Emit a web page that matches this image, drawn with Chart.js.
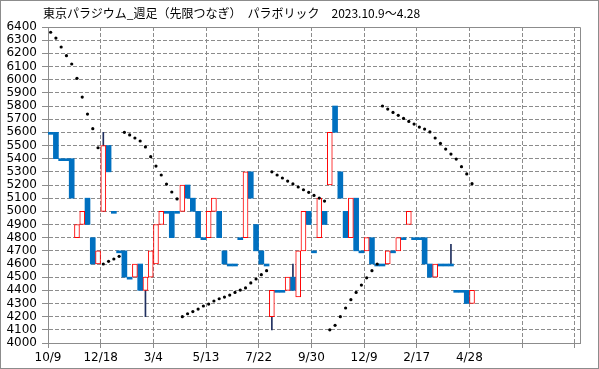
<!DOCTYPE html>
<html><head><meta charset="utf-8">
<script src="https://cdn.jsdelivr.net/npm/chart.js@4"></script>
<style>
html,body{margin:0;padding:0;background:#fff;}
#wrap{position:relative;width:599px;height:369px;}
#c{position:absolute;left:0;top:0;}
#frame{position:absolute;left:0;top:0;width:599px;height:369px;box-sizing:border-box;border:1px solid #8c8c8c;pointer-events:none;}
#title{position:absolute;left:43px;top:5px;font-size:12px;font-family:"Noto Sans CJK JP";color:#000;white-space:nowrap;line-height:16px;}
</style></head>
<body>
<div id="wrap">
<canvas id="c" width="599" height="369"></canvas>
<div id="title">東京パラジウム_週足（先限つなぎ）　パラボリック　2023.10.9～4.28</div>
<div id="frame"></div>
</div>
<script>
// weekly candles (index 0 = 2023/10/9)
const tickLabels = ['10/9','12/18','3/4','5/13','7/22','9/30','12/9','2/17','4/28'];
const openVals  = [5600,5600,5400,5400,5400,4800,4900,5100,4800,4600,
                   5000,5500,5000,4700,4700,4500,4500,4600,4400,4500,
                   4600,4900,5000,5000,5000,5000,5200,5100,5000,4800,
                   4800,5000,5000,4700,4600,4600,4800,4800,5300,4900,
                   4700,4600,4200,4400,4400,4400,4500,4350,4700,5000,
                   4700,4800,5000,5200,5800,5300,5000,4800,5100,4700,
                   4700,4800,4600,4600,4600,4700,4700,4800,4900,4800,
                   4800,4800,4600,4500,4600,4600,4600,4400,4400,4400,
                   4300];
const closeVals = [5600,5400,5400,5400,5100,4900,5000,4900,4600,4700,
                   5500,5300,5000,4700,4500,4500,4600,4400,4500,4700,
                   4900,5000,5000,4800,5000,5200,5100,5000,4800,4800,
                   5000,5100,4800,4600,4600,4600,4800,5300,5100,4700,
                   4600,4600,4400,4400,4400,4500,4400,4700,5000,4900,
                   4700,5100,4900,5600,5600,5100,4800,5100,4700,4700,
                   4800,4600,4600,4600,4700,4700,4800,4800,5000,4800,
                   4800,4600,4500,4600,4600,4600,4600,4400,4400,4300,
                   4400];
// only candles whose high/low go beyond the body
const wickIdx  = [10, 18, 42, 46, 76];
const wickHigh = [5600, 4500, 4400, 4600, 4750];
const wickLow  = [5000, 4200, 4100, 4400, 4600];
const sarVals = [6360,6316,6248,6182,6119,6010,5868,5739,5628,5483,
                 4600,4620,4638,4658,5600,5580,5557,5534,5489,5415,
                 5344,5276,5207,5147,5094,4200,4222,4239,4258,4281,
                 4296,4319,4336,4349,4364,4384,4402,4418,4456,4486,
                 4519,4549,5300,5276,5253,5230,5208,5185,5164,5144,
                 5121,5101,5078,4100,4134,4200,4266,4329,4384,4440,
                 4495,4549,4600,5800,5777,5751,5729,5706,5683,5663,
                 5640,5625,5603,5557,5516,5473,5435,5397,5339,5284,
                 5210];

const upData = [], downData = [], wickData = [], sarData = [];
openVals.forEach((o, i) => {
  const c = closeVals[i];
  if (c > o) upData.push({x: i + 0.5, y: [o, c]});
  else downData.push({x: i + 0.5, y: [o, c]});
});
wickIdx.forEach((i, k) => wickData.push({x: i + 0.5, y: [wickLow[k], wickHigh[k]]}));
sarVals.forEach((v, i) => sarData.push({x: i + 0.5, y: v}));

const GRID = '#8c8c8c';
const plotFrame = {
  id: 'plotFrame',
  afterDraw(chart) {
    const {ctx, chartArea: a} = chart;
    ctx.save();
    ctx.strokeStyle = GRID; ctx.lineWidth = 1;
    ctx.beginPath();
    ctx.moveTo(Math.round(a.left), Math.round(a.top) + 0.5);
    ctx.lineTo(Math.round(a.right) + 0.5, Math.round(a.top) + 0.5);
    ctx.lineTo(Math.round(a.right) + 0.5, Math.round(a.bottom));
    ctx.stroke();
    ctx.restore();
  }
};

new Chart(document.getElementById('c'), {
  type: 'bar',
  data: {
    datasets: [
      {type: 'scatter', data: sarData, order: 0, pointRadius: 1.6, pointHoverRadius: 1.6,
       backgroundColor: '#000', borderColor: '#000', borderWidth: 0},
      {data: upData, order: 1, barThickness: 5, grouped: false,
       backgroundColor: '#ffffff', borderColor: '#ff0000', borderWidth: 1, borderSkipped: false},
      {data: downData, order: 1, barThickness: 5, grouped: false, minBarLength: 2, base: 10000,
       backgroundColor: '#0070c0', borderWidth: 0},
      {data: wickData, order: 2, barThickness: 1, grouped: false,
       backgroundColor: '#1f2f5f', borderWidth: 0}
    ]
  },
  options: {
    responsive: false, animation: false, devicePixelRatio: 1,
    layout: {padding: {top: 27, right: 19, left: 0, bottom: 0}},
    plugins: {legend: {display: false}, tooltip: {enabled: false}, title: {display: false}},
    scales: {
      x: {
        type: 'linear', min: 0, max: 101, offset: false,
        afterFit: s => { s.height = 26; },
        grid: {offset: false, color: GRID, lineWidth: 1, tickLength: 5, drawTicks: true},
        border: {display: true, color: GRID, width: 1, dash: [4, 2]},
        ticks: {stepSize: 10, includeBounds: false, autoSkip: false, maxRotation: 0, minRotation: 0,
          padding: 3, color: '#000', font: {family: 'DejaVu Sans', size: 12},
          callback: v => tickLabels[v / 10] || ''}
      },
      y: {
        min: 4000, max: 6400,
        afterFit: s => { s.width = 48; },
        grid: {color: GRID, lineWidth: 1, tickLength: 6},
        border: {display: true, color: GRID, width: 1, dash: [4, 2]},
        ticks: {stepSize: 100, autoSkip: false, padding: 5, color: '#000',
          font: {family: 'DejaVu Sans', size: 12}, callback: v => String(v)}
      }
    }
  },
  plugins: [plotFrame]
});
</script>
</body></html>
